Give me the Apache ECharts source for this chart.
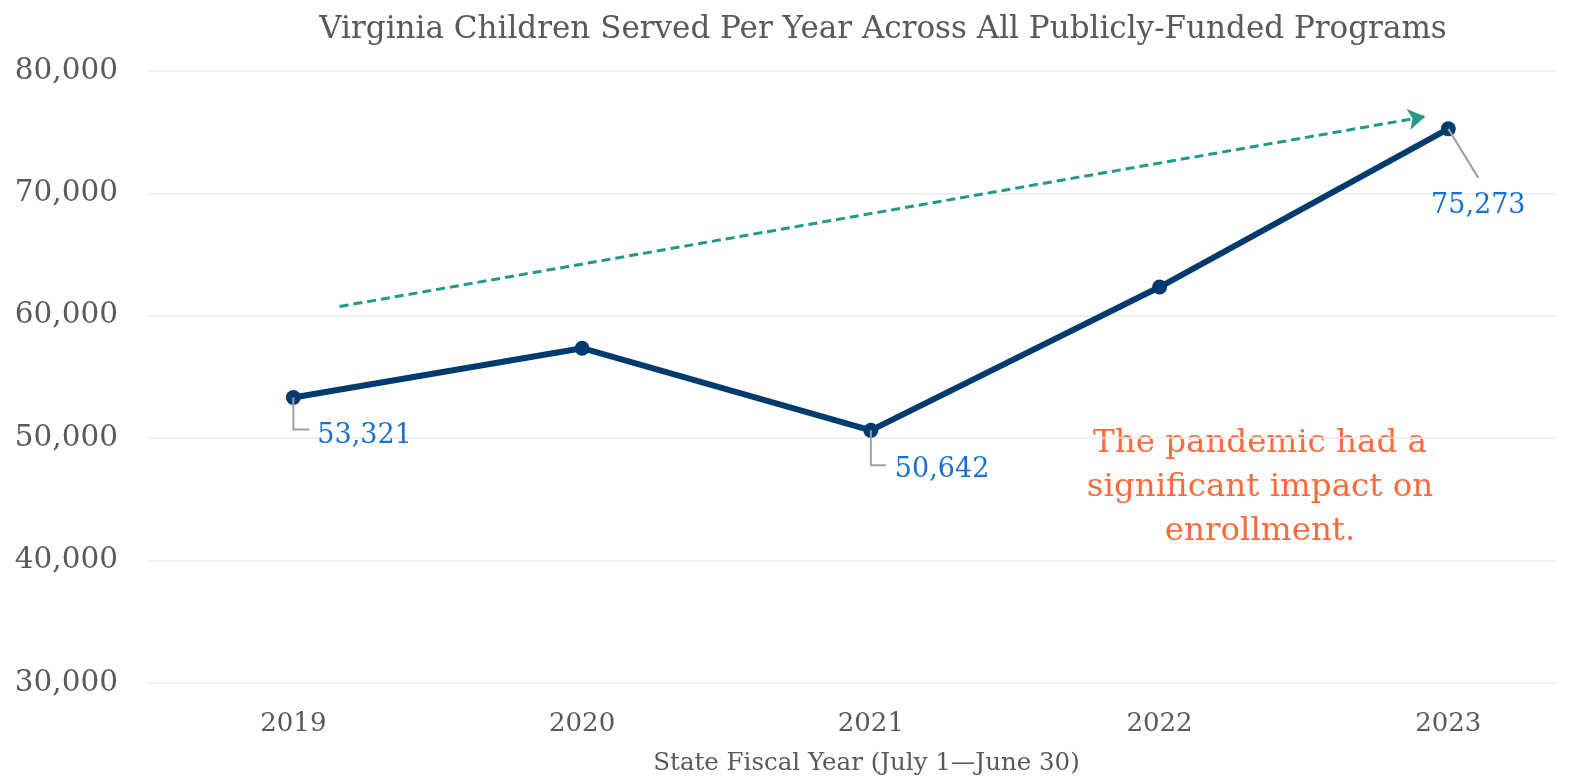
<!DOCTYPE html>
<html>
<head>
<meta charset="utf-8">
<title>Virginia Children Served Per Year</title>
<script src="https://cdn.jsdelivr.net/npm/echarts@6/dist/echarts.min.js"></script>
<style>
  html, body { margin: 0; padding: 0; background: #ffffff; }
  #chart { width: 1576px; height: 778px; }
</style>
</head>
<body>
<div id="chart"></div>
<script>
// Fiscal years and children served
const years = [2019, 2020, 2021, 2022, 2023];
const childrenServed = [53321, 57350, 50642, 62350, 75273];
// Years whose values get a callout label
const labeledYears = [2019, 2021, 2023];
// Trend arrow endpoints [year, children]
const trendStart = [2019.16, 60760];
const trendEnd = [2022.92, 76275];
// Y axis ticks
const yTicks = [30000, 40000, 50000, 60000, 70000, 80000];

const FONT = '"DejaVu Serif", "Liberation Serif", serif';
const fmt = v => v.toLocaleString('en-US');

const lineData = years.map((y, i) => [y, childrenServed[i]]);
const calloutData = lineData.filter(d => labeledYears.includes(d[0]));

// Leader-line layout per labelled year: elbow or diagonal
const calloutLayout = {
  2019: { kind: 'elbow', drop: 32, run: 16, tx: 24, ty: 38 },
  2021: { kind: 'elbow', drop: 35, run: 15, tx: 24, ty: 40 },
  2023: { kind: 'diag', dx: 30, dy: 49, tx: 30, ty: 77 }
};

const chart = echarts.init(document.getElementById('chart'), null, { renderer: 'canvas' });

chart.setOption({
  backgroundColor: '#ffffff',
  animation: false,
  title: {
    text: 'Virginia Children Served Per Year Across All Publicly-Funded Programs',
    left: 878,
    top: 9,
    textAlign: 'center',
    textStyle: { fontFamily: FONT, fontSize: 31, fontWeight: 'normal', color: '#595959' }
  },
  grid: { left: 149, right: 20, top: 71, bottom: 95, containLabel: false, outerBoundsMode: 'none' },
  xAxis: {
    type: 'value',
    min: 2018.5,
    max: 2023.373,
    interval: 0.5,
    name: 'State Fiscal Year (July 1\u2014June 30)',
    nameLocation: 'middle',
    nameGap: 68,
    nameTextStyle: { fontFamily: FONT, fontSize: 24.5, color: '#595959', padding: [0, 0, 0, 28] },
    axisLine: { show: false },
    axisTick: { show: false },
    splitLine: { show: false },
    axisLabel: {
      margin: 28,
      fontFamily: FONT,
      fontSize: 26,
      color: '#595959',
      showMinLabel: true,
      showMaxLabel: true,
      formatter: v => (Number.isInteger(v) && years.includes(v)) ? String(v) : ''
    }
  },
  yAxis: {
    type: 'value',
    min: yTicks[0],
    max: yTicks[yTicks.length - 1],
    interval: 10000,
    axisLine: { show: false },
    axisTick: { show: false },
    splitLine: { show: true, lineStyle: { color: '#ebebeb', width: 1.5 } },
    axisLabel: {
      margin: 31,
      fontFamily: FONT,
      fontSize: 29.5,
      color: '#595959',
      formatter: v => fmt(v)
    }
  },
  graphic: [{
    type: 'text',
    x: 1260,
    y: 422,
    style: {
      text: 'The pandemic had a\nsignificant impact on\nenrollment.',
      fontFamily: FONT,
      fontSize: 32.5,
      lineHeight: 44,
      fill: '#ff6b3d',
      align: 'center',
      textAlign: 'center'
    }
  }],
  series: [
    {
      name: 'Trend',
      type: 'line',
      data: [],
      silent: true,
      markLine: {
        silent: true,
        symbol: ['none', 'arrow'],
        symbolSize: [16, 17],
        label: { show: false },
        lineStyle: { color: '#22998a', width: 3, type: [9, 5] },
        emphasis: { disabled: true },
        data: [[{ coord: trendStart }, { coord: trendEnd }]]
      }
    },
    {
      name: 'Children Served',
      type: 'line',
      data: lineData,
      symbol: 'circle',
      symbolSize: 15,
      lineStyle: { color: '#003b6f', width: 6 },
      itemStyle: { color: '#003b6f' },
      z: 3
    },
    {
      name: 'Callouts',
      type: 'custom',
      data: calloutData,
      silent: true,
      z: 4,
      renderItem: (params, api) => {
        const year = api.value(0);
        const val = api.value(1);
        const p = api.coord([year, val]);
        const L = calloutLayout[year];
        let points, text;
        if (L.kind === 'elbow') {
          points = [[p[0], p[1]], [p[0], p[1] + L.drop], [p[0] + L.run, p[1] + L.drop]];
          text = { x: p[0] + L.tx, y: p[1] + L.ty, align: 'left' };
        } else {
          points = [[p[0], p[1]], [p[0] + L.dx, p[1] + L.dy]];
          text = { x: p[0] + L.tx, y: p[1] + L.ty, align: 'center' };
        }
        return {
          type: 'group',
          children: [
            {
              type: 'polyline',
              shape: { points },
              style: { stroke: '#a0a0a0', lineWidth: 2, fill: null },
              z2: 1
            },
            {
              type: 'text',
              x: text.x,
              y: text.y,
              style: {
                text: fmt(val),
                fontFamily: FONT,
                fontSize: 27,
                fill: '#1571d2',
                align: text.align,
                verticalAlign: 'middle'
              },
              z2: 2
            }
          ]
        };
      }
    }
  ]
});
</script>
</body>
</html>
